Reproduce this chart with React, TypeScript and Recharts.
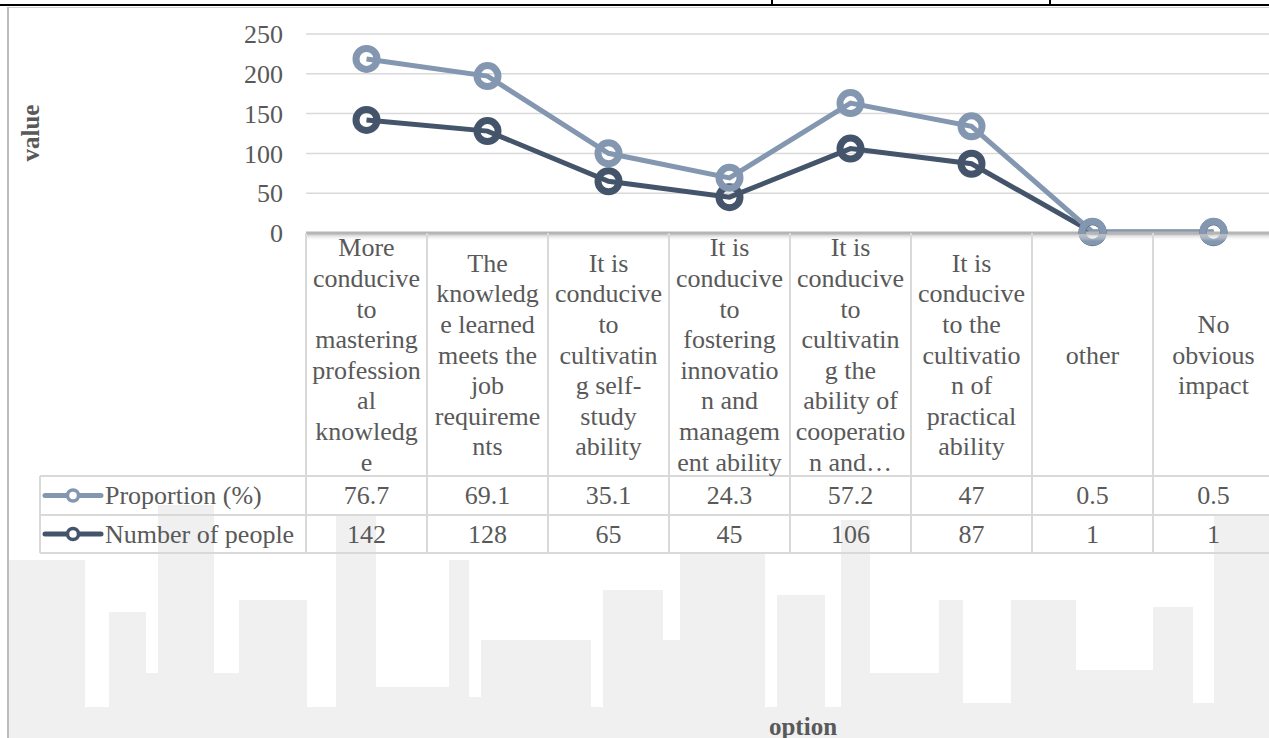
import React from 'react';
import { AreaChart, Area, XAxis, YAxis, CartesianGrid } from 'recharts';

// ---------- data ----------
const categories = [
  'More conducive to mastering professional knowledge',
  'The knowledge learned meets the job requirements',
  'It is conducive to cultivating self-study ability',
  'It is conducive to fostering innovation and management ability',
  'It is conducive to cultivating the ability of cooperation and…',
  'It is conducive to the cultivation of practical ability',
  'other',
  'No obvious impact',
];
const categoryLines = [
  ['More', 'conducive', 'to', 'mastering', 'profession', 'al', 'knowledg', 'e'],
  ['The', 'knowledg', 'e learned', 'meets the', 'job', 'requireme', 'nts'],
  ['It is', 'conducive', 'to', 'cultivatin', 'g self-', 'study', 'ability'],
  ['It is', 'conducive', 'to', 'fostering', 'innovatio', 'n and', 'managem', 'ent ability'],
  ['It is', 'conducive', 'to', 'cultivatin', 'g the', 'ability of', 'cooperatio', 'n and…'],
  ['It is', 'conducive', 'to the', 'cultivatio', 'n of', 'practical', 'ability'],
  ['other'],
  ['No', 'obvious', 'impact'],
];
const proportionValues = [76.7, 69.1, 35.1, 24.3, 57.2, 47, 0.5, 0.5];
const peopleValues = [142, 128, 65, 45, 106, 87, 1, 1];
const yTicks = [0, 50, 100, 150, 200, 250];
const seriesNames = ['Proportion (%)', 'Number of people'];
const axisTitles = { x: 'option', y: 'value' };

// ---------- layout / style ----------
const FONT = '"Liberation Serif", "Times New Roman", serif';
const TEXT = '#595959';
const GRID = '#d9d9d9';
const CHART_W = 1274;
const CHART_H = 738;
const MARGIN = { top: 34, right: 0, bottom: 185, left: 200 };
const Y_AXIS_W = 106;
const X_AXIS_H = 320;
const PLOT_W = CHART_W - MARGIN.left - MARGIN.right - Y_AXIS_W;
const COL_W = PLOT_W / categories.length;
const LEGEND_W = 266;
const LINE_H = 30.6;

const series = [
  { key: 'proportion', name: seriesNames[0], color: '#8497B0', values: proportionValues },
  { key: 'people', name: seriesNames[1], color: '#44546A', values: peopleValues },
];

const data = categories.map((c, i) => ({
  cat: c,
  proportion: proportionValues[i],
  people: peopleValues[i],
}));

const txt = (extra: any = {}) => ({
  fontFamily: FONT,
  fontSize: 26,
  fill: TEXT,
  ...extra,
});

const TableTick = (props: any) => {
  const { x, y, payload } = props;
  const i = categories.indexOf(payload.value);
  const left = x - COL_W / 2;
  const right = x + COL_W / 2;
  const lines = categoryLines[i] || [];
  const labelCenter = y + 122;
  const r1 = y + 243;
  const r2 = y + 282;
  const r3 = y + 320;
  const rows = [r1, r2, r3];
  const n = lines.length;
  return (
    <g>
      <defs>
        <linearGradient id={`axshadow${i}`} x1="0" y1="0" x2="0" y2="1">
          <stop offset="0%" stopColor="#bdbdbd" stopOpacity={0.9} />
          <stop offset="100%" stopColor="#ffffff" stopOpacity={0} />
        </linearGradient>
      </defs>
      <rect x={left} y={y + 1} width={COL_W} height={7} fill={`url(#axshadow${i})`} />
      <line x1={left} x2={left} y1={y} y2={r3} stroke={GRID} strokeWidth={2} />
      {i === categories.length - 1 && (
        <line x1={right} x2={right} y1={y} y2={r3} stroke={GRID} strokeWidth={2} />
      )}
      {rows.map((ry, k) => (
        <line key={k} x1={left} x2={right} y1={ry} y2={ry} stroke={GRID} strokeWidth={2} />
      ))}
      {lines.map((l, k) => (
        <text
          key={k}
          x={x}
          y={labelCenter + (k - (n - 1) / 2) * LINE_H}
          textAnchor="middle"
          dominantBaseline="central"
          {...txt()}
        >
          {l}
        </text>
      ))}
      {series.map((s, k) => (
        <text
          key={s.key}
          x={x}
          y={(rows[k] + rows[k + 1]) / 2}
          textAnchor="middle"
          dominantBaseline="central"
          {...txt()}
        >
          {s.values[i]}
        </text>
      ))}
      {i === 0 && (
        <g>
          <line x1={left - LEGEND_W} x2={left - LEGEND_W} y1={r1} y2={r3} stroke={GRID} strokeWidth={2} />
          {rows.map((ry, k) => (
            <line key={k} x1={left - LEGEND_W} x2={left} y1={ry} y2={ry} stroke={GRID} strokeWidth={2} />
          ))}
          {series.map((s, k) => {
            const cy = (rows[k] + rows[k + 1]) / 2;
            const lx = left - LEGEND_W;
            return (
              <g key={s.key}>
                <line x1={lx + 5} x2={lx + 61} y1={cy} y2={cy} stroke={s.color} strokeWidth={5} strokeLinecap="round" />
                <circle cx={lx + 33} cy={cy} r={5.5} fill="#fff" stroke={s.color} strokeWidth={3.5} />
                <text x={lx + 65} y={cy} textAnchor="start" dominantBaseline="central" {...txt()}>
                  {s.name}
                </text>
              </g>
            );
          })}
        </g>
      )}
    </g>
  );
};

// background watermark skyline: [x1, x2, whiteUntil]
const skyline: [number, number, number][] = [
  [8, 85, 560], [85, 109, 707], [109, 146, 612], [146, 158, 673], [158, 214, 553],
  [214, 239, 673], [239, 307, 600], [307, 336, 707], [336, 376, 553], [376, 449, 687],
  [449, 469, 560], [469, 481, 697], [481, 591, 640], [591, 603, 707], [603, 663, 590],
  [663, 680, 640], [680, 765, 553], [765, 777, 707], [777, 825, 595], [825, 841, 707],
  [841, 870, 553], [870, 939, 673], [939, 963, 600], [963, 1011, 703], [1011, 1076, 600],
  [1076, 1153, 670], [1153, 1193, 607], [1193, 1214, 703], [1214, 1269, 553],
];
const towers: [number, number, number][] = [
  [158, 214, 505], [336, 376, 515], [841, 870, 520], [1214, 1269, 515],
];

const Background = () => (
  <svg width={1269} height={738} style={{ position: 'absolute', left: 0, top: 0 }}>
    <rect x={8} y={553} width={1261} height={185} fill="#f0f0f0" />
    {skyline.map(([a, b, w], k) =>
      w > 553 ? <rect key={k} x={a} y={553} width={b - a} height={w - 553} fill="#ffffff" /> : null
    )}
    {towers.map(([a, b, t], k) => (
      <rect key={'t' + k} x={a} y={t} width={b - a} height={553 - t} fill="#f0f0f0" />
    ))}
    <rect x={0} y={4} width={1269} height={2} fill="#000" />
    <rect x={771} y={0} width={2} height={5} fill="#000" />
    <rect x={1049} y={0} width={2} height={5} fill="#000" />
    <rect x={8} y={7} width={1261} height={1} fill="#cfcfcf" />
    <rect x={7} y={7} width={2} height={731} fill="#bdbdbd" />
  </svg>
);

export default function App() {
  const drawOrder = [series[1], series[0]];
  return (
    <div
      style={{
        position: 'fixed',
        left: 0,
        top: 0,
        width: 1269,
        height: 738,
        overflow: 'hidden',
        background: '#fff',
        fontFamily: FONT,
      }}
    >
      <Background />
      <div style={{ position: 'absolute', left: 0, top: 0 }}>
        <AreaChart width={CHART_W} height={CHART_H} data={data} margin={MARGIN}>
          <CartesianGrid horizontal vertical={false} stroke={GRID} strokeWidth={1.5} />
          <YAxis
            width={Y_AXIS_W}
            domain={[0, 250]}
            ticks={yTicks}
            axisLine={false}
            tickLine={false}
            tickSize={0}
            tickMargin={23}
            tick={{ fontFamily: FONT, fontSize: 26, fill: TEXT }}
            label={{
              value: axisTitles.y,
              content: () => (
                <text
                  x={30}
                  y={133}
                  transform="rotate(-90 30 133)"
                  textAnchor="middle"
                  dominantBaseline="central"
                  fontFamily={FONT}
                  fontSize={25}
                  fontWeight="bold"
                  fill={TEXT}
                >
                  {axisTitles.y}
                </text>
              ),
            }}
          />
          <XAxis
            dataKey="cat"
            height={X_AXIS_H}
            interval={0}
            padding={{ left: COL_W / 2, right: COL_W / 2 }}
            tickLine={false}
            tickSize={0}
            tickMargin={0}
            axisLine={{ stroke: '#b5b5b5', strokeWidth: 3 }}
            tick={<TableTick />}
            label={{
              value: axisTitles.x,
              content: () => (
                <text
                  x={803}
                  y={726}
                  textAnchor="middle"
                  dominantBaseline="central"
                  fontFamily={FONT}
                  fontSize={25}
                  fontWeight="bold"
                  fill={TEXT}
                >
                  {axisTitles.x}
                </text>
              ),
            }}
          />
          {drawOrder.map((s) => (
            <Area
              key={s.key}
              type="linear"
              dataKey={s.key}
              name={s.name}
              stackId="total"
              stroke={s.color}
              strokeWidth={5}
              fill="none"
              fillOpacity={0}
              dot={{ r: 10.5, stroke: s.color, strokeWidth: 7, fill: '#ffffff' }}
              activeDot={false}
              isAnimationActive={false}
            />
          ))}
        </AreaChart>
      </div>
    </div>
  );
}
